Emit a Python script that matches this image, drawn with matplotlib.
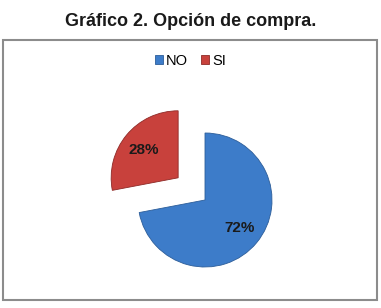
import matplotlib
matplotlib.use("Agg")
import matplotlib.pyplot as plt
from matplotlib.patches import Rectangle

# data
labels = ["NO", "SI"]
values = [72, 28]
colors = ["#3d7cc9", "#c8413c"]
explode = [0, 0.52]

plt.rcParams['font.family'] = ['Liberation Sans', 'DejaVu Sans']

W, H = 381, 308
fig = plt.figure(figsize=(W / 100, H / 100), dpi=100)

# frame around the chart area
fig.patches.append(Rectangle((2.5 / W, 1 - 300 / H), 374.5 / W, 260 / H,
                             transform=fig.transFigure, fill=False,
                             edgecolor="#8c8c8c", linewidth=1.5))

fig.text(0.5, 1 - 22 / H, "Gráfico 2. Opción de compra.", ha="center", va="center",
         fontsize=13, fontweight="bold", color="#1a1a1a")

# pie axes: centre at (205, 200) px, radius ~67 px
cx, cy, r = 205, 200, 67
half = 110
ax = fig.add_axes([(cx - half) / W, 1 - (cy + half) / H, 2 * half / W, 2 * half / H])
wedges, texts, autotexts = ax.pie(values, colors=colors, explode=explode, startangle=90,
                                  counterclock=False, autopct="%d%%", pctdistance=0.66,
                                  wedgeprops=dict(edgecolor="#2c5d99", linewidth=0.6),
                                  textprops=dict(fontsize=11, fontweight="bold", color="#1a1a1a"))
wedges[1].set_edgecolor("#8e2a27")
ax.set_xlim(-half / r, half / r)
ax.set_ylim(-half / r, half / r)
ax.set_aspect("equal")
ax.axis("off")

fig.legend(wedges, labels, loc="center", bbox_to_anchor=(0.5, 1 - 61 / H), ncol=2,
           frameon=False, fontsize=10.5, handlelength=0.55, handleheight=0.55,
           handletextpad=0.2, columnspacing=0.9)

fig.savefig("out.png", dpi=100)
